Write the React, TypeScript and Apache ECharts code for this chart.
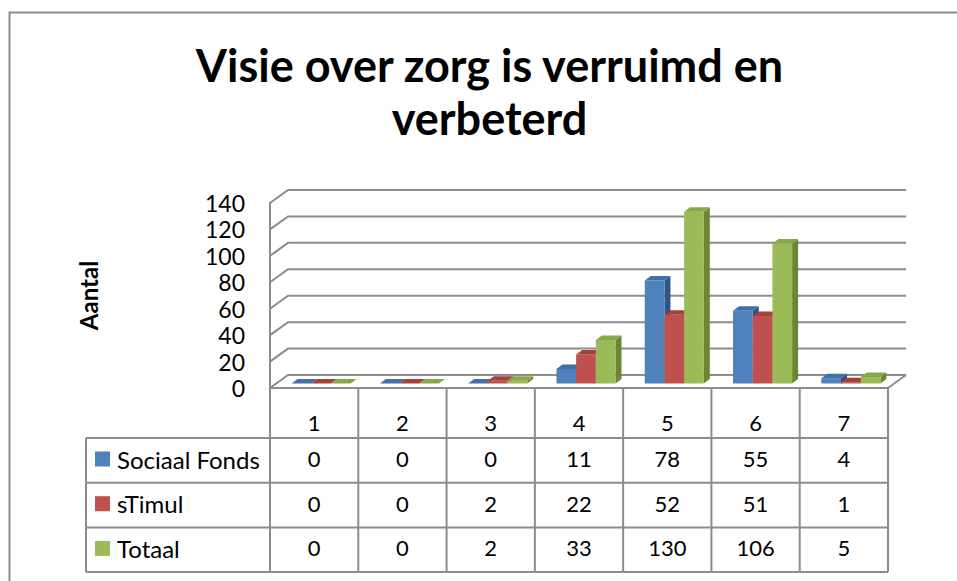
import React, { useEffect, useRef } from "react";
import * as echarts from "echarts";

const categories = ["1", "2", "3", "4", "5", "6", "7"];
const sociaalFonds = [0, 0, 0, 11, 78, 55, 4];
const sTimul = [0, 0, 2, 22, 52, 51, 1];
const totaal = [0, 0, 2, 33, 130, 106, 5];
const seriesNames = ["Sociaal Fonds", "sTimul", "Totaal"];
const yTicks = [0, 20, 40, 60, 80, 100, 120, 140];
const titleLines = ["Visie over zorg is verruimd en", "verbeterd"];
const yAxisName = "Aantal";

const FONT = "Lato";
const LINE = "#8C8C8C";
const COLORS = [
  { front: "#4F81BD", top: "#416FA8", side: "#2F5587" },
  { front: "#C0504D", top: "#A5403D", side: "#86312F" },
  { front: "#9BBB59", top: "#88A84A", side: "#6B8736" },
];
// back wall offset
const DX = 18;
const DY = -13;
// bar plane offset and bar depth
const BX = 7;
const BY = -4.5;
const SX = 6;
const SY = -4.5;
const BAR_FRAC = 0.223;
// table geometry
const HEADER_H = 50;
const ROW_H = 44.7;
const LEG_X = 86;
const TEXT_DY = -2;

const allSeries = [sociaalFonds, sTimul, totaal];

function barRenderer(sIdx: number) {
  return (params: any, api: any) => {
    const i = api.value(0);
    const v = api.value(1);
    const [cx, yb0] = api.coord([i, 0]);
    const [, yt0] = api.coord([i, v]);
    const band = api.size([1, 0])[0];
    const w = band * BAR_FRAC;
    const x = cx - 1.5 * w + BX + sIdx * w;
    const yb = yb0 + BY;
    const yt = yt0 + BY;
    const c = COLORS[sIdx];
    return {
      type: "group",
      children: [
        {
          type: "polygon",
          shape: { points: [[x + w, yt], [x + w + SX, yt + SY], [x + w + SX, yb + SY], [x + w, yb]] },
          style: { fill: c.side },
        },
        {
          type: "rect",
          shape: { x, y: yt, width: w, height: yb - yt },
          style: { fill: c.front },
        },
        {
          type: "polygon",
          shape: { points: [[x, yt], [x + SX, yt + SY], [x + w + SX, yt + SY], [x + w, yt]] },
          style: { fill: c.top },
        },
      ],
    };
  };
}

export default function App() {
  const ref = useRef<HTMLDivElement>(null);
  useEffect(() => {
    if (!ref.current) return;
    const chart = echarts.init(ref.current, undefined, { renderer: "svg" });
    const lineStyle = { stroke: LINE, lineWidth: 2, fill: "none" };

    const gridSeries = {
      type: "custom",
      silent: true,
      clip: false,
      z: 1,
      data: yTicks.map((v) => [0, v]),
      renderItem: (params: any, api: any) => {
        const v = api.value(1);
        const y = api.coord([0, v])[1];
        const cs = params.coordSys;
        const x0 = cs.x;
        const x1 = cs.x + cs.width;
        const children: any[] = [
          {
            type: "polyline",
            shape: { points: [[x0, y], [x0 + DX, y + DY], [x1 + DX, y + DY]] },
            style: lineStyle,
          },
        ];
        if (v === 0) {
          children.push({
            type: "line",
            shape: { x1: x1, y1: y, x2: x1 + DX, y2: y + DY },
            style: lineStyle,
          });
        }
        return { type: "group", children };
      },
    };

    const tableSeries = {
      type: "custom",
      silent: true,
      clip: false,
      z: 1,
      data: categories.map((_, i) => [i, sociaalFonds[i], sTimul[i], totaal[i]]),
      renderItem: (params: any, api: any) => {
        const i = api.value(0);
        const [cx, y0] = api.coord([i, 0]);
        const band = api.size([1, 0])[0];
        const xl = cx - band / 2;
        const xr = cx + band / 2;
        const yBottom = y0 + HEADER_H + 3 * ROW_H;
        const children: any[] = [];
        children.push({ type: "line", shape: { x1: xr, y1: y0, x2: xr, y2: yBottom }, style: lineStyle });
        if (i === 0) {
          children.push({ type: "line", shape: { x1: xl, y1: y0, x2: xl, y2: yBottom }, style: lineStyle });
          children.push({
            type: "line",
            shape: { x1: LEG_X, y1: y0 + HEADER_H, x2: LEG_X, y2: yBottom },
            style: lineStyle,
          });
        }
        for (let r = 0; r < 4; r++) {
          const yy = y0 + HEADER_H + r * ROW_H;
          children.push({
            type: "line",
            shape: { x1: i === 0 ? LEG_X : xl, y1: yy, x2: xr, y2: yy },
            style: lineStyle,
          });
        }
        for (let s = 0; s < 3; s++) {
          children.push({
            type: "text",
            style: {
              text: String(api.value(1 + s)),
              x: cx,
              y: y0 + HEADER_H + (s + 0.5) * ROW_H + TEXT_DY,
              align: "center",
              verticalAlign: "middle",
              fontFamily: FONT,
              fontSize: 22,
              fill: "#000",
            },
          });
        }
        return { type: "group", children };
      },
    };

    const barSeries = allSeries.map((vals, sIdx) => ({
      type: "custom",
      name: seriesNames[sIdx],
      clip: false,
      z: 3,
      itemStyle: { color: COLORS[sIdx].front },
      data: vals.map((v, i) => [i, v]),
      renderItem: barRenderer(sIdx),
    }));

    chart.setOption({
      animation: false,
      backgroundColor: "#fff",
      title: {
        text: titleLines.join("\n"),
        left: 484.5,
        top: 33,
        textAlign: "center",
        textStyle: {
          fontFamily: FONT,
          fontWeight: "bold",
          fontSize: 45,
          lineHeight: 53,
          color: "#000",
        },
      },
      graphic: [
        {
          type: "rect",
          silent: true,
          shape: { x: 9.5, y: 12.5, width: 1000, height: 1000 },
          style: { fill: "none", stroke: LINE, lineWidth: 2 },
        },
      ],
      legend: {
        orient: "vertical",
        left: 95,
        top: 444,
        padding: 0,
        itemWidth: 15,
        itemHeight: 15,
        itemGap: 14.7,
        icon: "rect",
        selectedMode: false,
        data: seriesNames,
        textStyle: {
          fontFamily: FONT,
          fontSize: 24,
          color: "#000",
          lineHeight: 24,
          padding: [0, 0, 6, 2],
        },
      },
      grid: { left: 270, top: 203, width: 618, height: 185, containLabel: false },
      xAxis: {
        type: "category",
        data: categories,
        axisLine: { show: true, lineStyle: { color: LINE, width: 2 } },
        axisTick: { show: false },
        axisLabel: { margin: 23, fontFamily: FONT, fontSize: 22, color: "#000" },
        splitLine: { show: false },
      },
      yAxis: {
        type: "value",
        min: 0,
        max: 140,
        interval: 20,
        name: yAxisName,
        nameLocation: "middle",
        nameGap: 170,
        nameTextStyle: { fontFamily: FONT, fontWeight: "bold", fontSize: 24, color: "#000" },
        axisLine: { show: true, lineStyle: { color: LINE, width: 2 } },
        axisTick: { show: false },
        axisLabel: { margin: 25, fontFamily: FONT, fontSize: 23, color: "#000" },
        splitLine: { show: false },
      },
      series: [gridSeries, tableSeries, ...barSeries],
    });
    return () => chart.dispose();
  }, []);
  return (
    <div
      ref={ref}
      style={{ position: "fixed", left: 0, top: 0, width: 957, height: 581, background: "#fff" }}
    />
  );
}
